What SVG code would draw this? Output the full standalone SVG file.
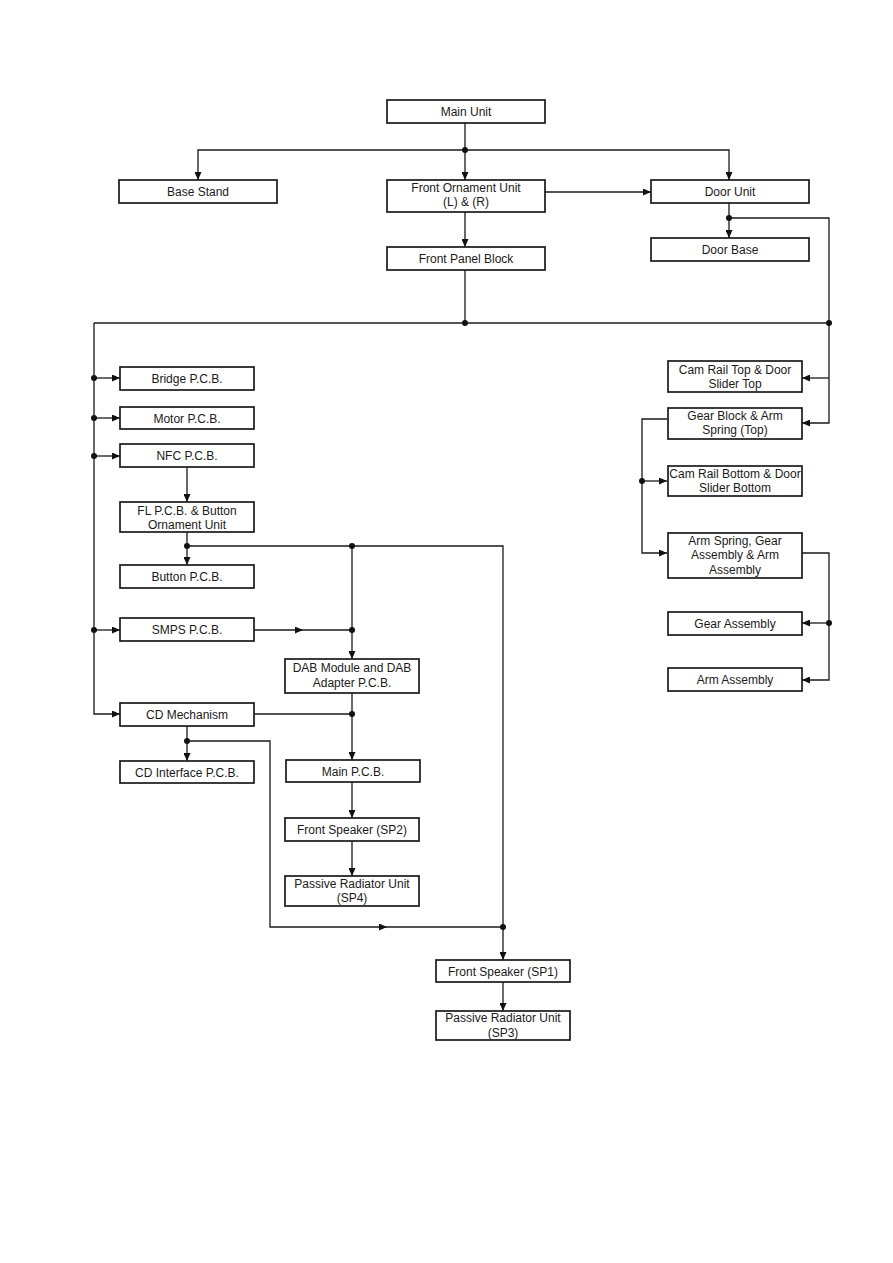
<svg xmlns="http://www.w3.org/2000/svg" width="893" height="1263" viewBox="0 0 893 1263">
<style>
.box{fill:#fff;stroke:#1a1a1a;stroke-width:1.7}
.t{font-family:"Liberation Sans",Arial,sans-serif;font-size:12px;fill:#1a1a1a;text-anchor:middle}
.ln{fill:none;stroke:#1a1a1a;stroke-width:1.3}
.arr{marker-end:url(#ah)}
.dot{fill:#111}
</style>
<defs>
<marker id="ah" markerUnits="userSpaceOnUse" markerWidth="8" markerHeight="7" refX="8" refY="3.5" orient="auto">
<path d="M0,0 L8,3.5 L0,7 z" fill="#111"/>
</marker>
</defs>
<rect width="893" height="1263" fill="#fff"/>

<g id="connectors">
<path class="ln arr" d="M465,123 V180"/>
<path class="ln arr" d="M465,150 H198 V180"/>
<path class="ln arr" d="M465,150 H729 V180"/>
<path class="ln arr" d="M545,192 H651"/>
<path class="ln arr" d="M465,212 V247"/>
<path class="ln arr" d="M729,203 V238"/>
<path class="ln arr" d="M729,218 H829 V423 H802"/>
<path class="ln arr" d="M829,378 H802"/>
<path class="ln" d="M465,270 V323"/>
<path class="ln" d="M94,323 H829"/>
<path class="ln arr" d="M94,323 V714 H120"/>
<path class="ln arr" d="M94,378 H120"/>
<path class="ln arr" d="M94,418 H120"/>
<path class="ln arr" d="M94,456 H120"/>
<path class="ln arr" d="M94,630 H120"/>
<path class="ln arr" d="M187,467 V502"/>
<path class="ln arr" d="M187,532 V565"/>
<path class="ln arr" d="M187,546 H503 V960"/>
<path class="ln arr" d="M352,546 V659"/>
<path class="ln arr" d="M254,630 H303"/>
<path class="ln" d="M303,630 H352"/>
<path class="ln" d="M254,714 H352"/>
<path class="ln arr" d="M352,693 V760"/>
<path class="ln arr" d="M187,726 V761"/>
<path class="ln arr" d="M187,741 H270 V927 H387"/>
<path class="ln" d="M387,927 H503"/>
<path class="ln arr" d="M352,782 V818"/>
<path class="ln arr" d="M352,841 V876"/>
<path class="ln arr" d="M503,982 V1011"/>
<path class="ln arr" d="M667,419 H642 V553 H667"/>
<path class="ln arr" d="M642,481 H667"/>
<path class="ln arr" d="M802,553 H829 V680 H802"/>
<path class="ln arr" d="M829,623 H802"/>
<circle class="dot" cx="465" cy="150" r="3"/>
<circle class="dot" cx="729" cy="218" r="3"/>
<circle class="dot" cx="465" cy="323" r="3"/>
<circle class="dot" cx="829" cy="323" r="3"/>
<circle class="dot" cx="94" cy="378" r="3"/>
<circle class="dot" cx="94" cy="418" r="3"/>
<circle class="dot" cx="94" cy="456" r="3"/>
<circle class="dot" cx="94" cy="630" r="3"/>
<circle class="dot" cx="187" cy="546" r="3"/>
<circle class="dot" cx="352" cy="546" r="3"/>
<circle class="dot" cx="352" cy="630" r="3"/>
<circle class="dot" cx="352" cy="714" r="3"/>
<circle class="dot" cx="187" cy="741" r="3"/>
<circle class="dot" cx="503" cy="927" r="3"/>
<circle class="dot" cx="642" cy="481" r="3"/>
<circle class="dot" cx="829" cy="623" r="3"/>
</g>

<g id="main-unit"><rect class="box" x="387" y="100" width="158" height="23"/><text class="t" x="466" y="116">Main Unit</text></g>
<g id="base-stand"><rect class="box" x="119" y="180" width="158" height="23"/><text class="t" x="198" y="196">Base Stand</text></g>
<g id="front-ornament"><rect class="box" x="387" y="180" width="158" height="32"/><text class="t" x="466" y="192">Front Ornament Unit</text><text class="t" x="466" y="206">(L) &amp; (R)</text></g>
<g id="front-panel"><rect class="box" x="387" y="247" width="158" height="23"/><text class="t" x="466" y="263">Front Panel Block</text></g>
<g id="door-unit"><rect class="box" x="651" y="180" width="158" height="23"/><text class="t" x="730" y="196">Door Unit</text></g>
<g id="door-base"><rect class="box" x="651" y="238" width="158" height="23"/><text class="t" x="730" y="254">Door Base</text></g>

<g id="bridge-pcb"><rect class="box" x="120" y="367" width="134" height="23"/><text class="t" x="187" y="383">Bridge P.C.B.</text></g>
<g id="motor-pcb"><rect class="box" x="120" y="407" width="134" height="22"/><text class="t" x="187" y="422.5">Motor P.C.B.</text></g>
<g id="nfc-pcb"><rect class="box" x="120" y="444" width="134" height="23"/><text class="t" x="187" y="460">NFC P.C.B.</text></g>
<g id="fl-pcb"><rect class="box" x="120" y="502" width="134" height="30"/><text class="t" x="187" y="514.5">FL P.C.B. &amp; Button</text><text class="t" x="187" y="528.5">Ornament Unit</text></g>
<g id="button-pcb"><rect class="box" x="120" y="565" width="134" height="23"/><text class="t" x="187" y="581">Button P.C.B.</text></g>
<g id="smps-pcb"><rect class="box" x="120" y="618" width="134" height="23"/><text class="t" x="187" y="634">SMPS P.C.B.</text></g>
<g id="cd-mechanism"><rect class="box" x="120" y="703" width="134" height="23"/><text class="t" x="187" y="719">CD Mechanism</text></g>
<g id="cd-interface"><rect class="box" x="120" y="761" width="134" height="22"/><text class="t" x="187" y="776.5">CD Interface P.C.B.</text></g>

<g id="dab"><rect class="box" x="285" y="659" width="134" height="34"/><text class="t" x="352" y="671.5">DAB Module and DAB</text><text class="t" x="352" y="686.5">Adapter P.C.B.</text></g>
<g id="main-pcb"><rect class="box" x="286" y="760" width="134" height="22"/><text class="t" x="353" y="775.5">Main P.C.B.</text></g>
<g id="sp2"><rect class="box" x="285" y="818" width="134" height="23"/><text class="t" x="352" y="834">Front Speaker (SP2)</text></g>
<g id="sp4"><rect class="box" x="285" y="876" width="134" height="30"/><text class="t" x="352" y="887.5">Passive Radiator Unit</text><text class="t" x="352" y="901.5">(SP4)</text></g>
<g id="sp1"><rect class="box" x="436" y="960" width="134" height="22"/><text class="t" x="503" y="975.5">Front Speaker (SP1)</text></g>
<g id="sp3"><rect class="box" x="436" y="1011" width="134" height="29"/><text class="t" x="503" y="1021.5">Passive Radiator Unit</text><text class="t" x="503" y="1036.5">(SP3)</text></g>

<g id="cam-rail-top"><rect class="box" x="668" y="361" width="134" height="31"/><text class="t" x="735" y="373.5">Cam Rail Top &amp; Door</text><text class="t" x="735" y="387.5">Slider Top</text></g>
<g id="gear-block"><rect class="box" x="668" y="408" width="134" height="31"/><text class="t" x="735" y="419.5">Gear Block &amp; Arm</text><text class="t" x="735" y="433.5">Spring (Top)</text></g>
<g id="cam-rail-bottom"><rect class="box" x="668" y="466" width="134" height="30"/><text class="t" x="735" y="477.5">Cam Rail Bottom &amp; Door</text><text class="t" x="735" y="491.5">Slider Bottom</text></g>
<g id="arm-spring"><rect class="box" x="668" y="533" width="134" height="45"/><text class="t" x="735" y="544.5">Arm Spring, Gear</text><text class="t" x="735" y="558.5">Assembly &amp; Arm</text><text class="t" x="735" y="573.5">Assembly</text></g>
<g id="gear-assembly"><rect class="box" x="668" y="612" width="134" height="23"/><text class="t" x="735" y="628">Gear Assembly</text></g>
<g id="arm-assembly"><rect class="box" x="668" y="668" width="134" height="23"/><text class="t" x="735" y="684">Arm Assembly</text></g>
</svg>
